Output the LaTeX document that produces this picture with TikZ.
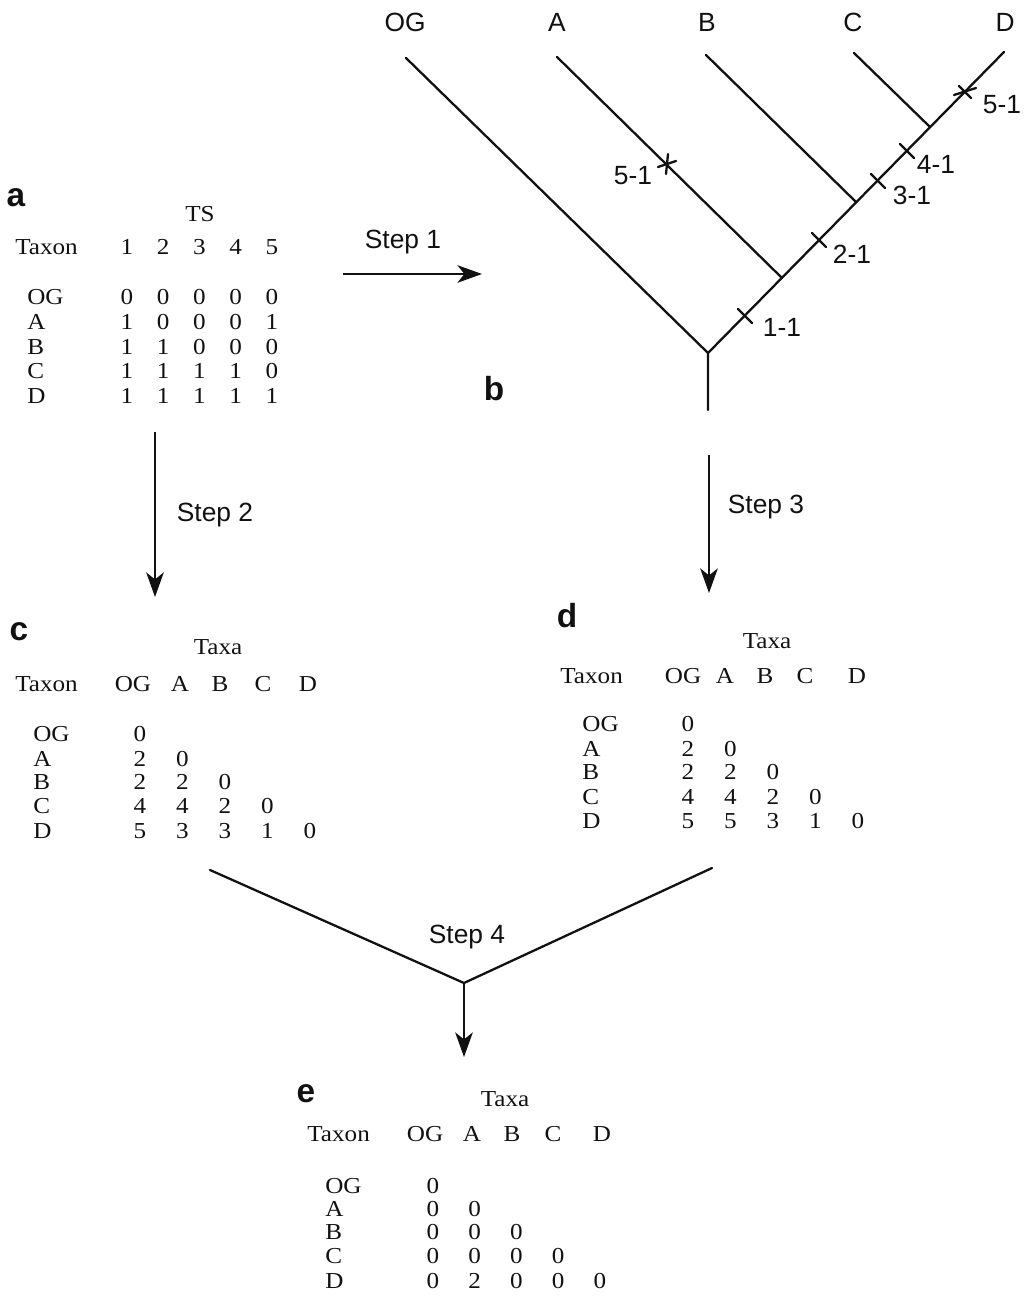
\documentclass[tikz,border=0pt]{standalone}
\usepackage{fontspec}
\setmainfont{Liberation Sans}
\newfontfamily\tabfont[FakeStretch=1.1]{Liberation Serif}
\usetikzlibrary{arrows.meta}
\definecolor{Ink}{HTML}{111111}
\tikzset{
    branch/.style={line width=1.3pt, draw=Ink, line cap=round},
    steparrow/.style={-{Stealth[length=14pt, width=10pt, inset=4pt]}, line width=1.3pt, draw=Ink},
    tabtxt/.style={font=\tabfont\fontsize{13}{15}\selectfont, text=Ink, inner sep=0pt, text height=1.5ex, text depth=0pt},
    rowlab/.style={tabtxt, anchor=west},
    steplab/.style={font=\fontsize{15}{18}\selectfont, text=Ink, inner sep=0pt, text height=1.5ex, text depth=0pt},
    panel/.style={font=\bfseries\fontsize{19}{22}\selectfont, text=Ink, inner sep=0pt, anchor=base},
}

\begin{document}
\begin{tikzpicture}[x=0.02cm, y=-0.02cm]
                \useasboundingbox (0,0) rectangle (1025,1297);

                % Tabella a (caratteri)
                \node[panel] (pa) at (16,207) {a};
                \node[tabtxt] (a-ts) at (200,215) {TS};
                \node[rowlab] (a-head) at (15,248) {Taxon};
                \foreach \c in {1,...,5}
                    \node[tabtxt] (a-h\c) at ({127+36.25*(\c-1)},248) {\c};
                \foreach \lab/\y/\vals [count=\r] in {OG/298/{0,0,0,0,0}, A/323/{1,0,0,0,1}, B/348/{1,1,0,0,0}, C/372/{1,1,1,1,0}, D/397/{1,1,1,1,1}} {
                    \node[rowlab] (a-r\r) at (27,\y) {\lab};
                    \foreach \v [count=\c] in \vals
                        \node[tabtxt] (a-\r-\c) at ({127+36.25*(\c-1)},\y) {\v};
                }

                % Albero b
                \node[panel] (pb) at (494,400) {b};
                \coordinate (root) at (708,353);
                \coordinate (stem) at (708,410);
                \coordinate (tOG) at (406,58);
                \coordinate (tA) at (557,57);
                \coordinate (tB) at (706,55);
                \coordinate (tC) at (854,53);
                \coordinate (tD) at (1004,52);
                \coordinate (jA) at (782,278);
                \coordinate (jB) at (856,202);
                \coordinate (jC) at (930,127);
                \draw[branch] (stem) -- (root) -- (tOG);
                \draw[branch] (root) -- (tD);
                \draw[branch] (jA) -- (tA);
                \draw[branch] (jB) -- (tB);
                \draw[branch] (jC) -- (tC);
                \node[steplab] (lOG) at (405,25) {OG};
                \node[steplab] (lA) at (557,25) {A};
                \node[steplab] (lB) at (707,25) {B};
                \node[steplab] (lC) at (853,25) {C};
                \node[steplab] (lD) at (1005,25) {D};

                % Tacche dei cambiamenti
                \coordinate (k1) at (745,316);
                \coordinate (k2) at (819,240);
                \coordinate (k3) at (878,181);
                \coordinate (k4) at (907,151);
                \coordinate (k5) at (965,92);
                \coordinate (kA) at (667,164);
                \draw[branch] (k1) ++(-7,-7) -- ++(14,14);
                \draw[branch] (k2) ++(-7,-7) -- ++(14,14);
                \draw[branch] (k3) ++(-7,-7) -- ++(14,14);
                \draw[branch] (k4) ++(-7,-7) -- ++(14,14);
                \draw[branch] (k5) ++(-6,-6) -- ++(12,12);
                \draw[branch] (k5) ++(-11,3) -- ++(22,-7);
                \draw[branch] (kA) ++(1,-10) -- ++(-2,20);
                \draw[branch] (kA) ++(-9,3) -- ++(18,-6);
                \node[steplab] (m1) at (782,330) {1-1};
                \node[steplab] (m2) at (852,257) {2-1};
                \node[steplab] (m3) at (912,198) {3-1};
                \node[steplab] (m4) at (936,167) {4-1};
                \node[steplab] (m5) at (1002,107) {5-1};
                \node[steplab] (mA) at (633,178) {5-1};

                % Step 1
                \coordinate (s1a) at (343,274);
                \coordinate (s1b) at (482,274);
                \draw[steparrow] (s1a) -- (s1b);
                \node[steplab] (step1) at (403,242) {Step 1};

                % Step 2
                \coordinate (s2a) at (155,432);
                \coordinate (s2b) at (155,597);
                \draw[steparrow] (s2a) -- (s2b);
                \node[steplab] (step2) at (215,515) {Step 2};

                % Step 3
                \coordinate (s3a) at (709,455);
                \coordinate (s3b) at (709,593);
                \draw[steparrow] (s3a) -- (s3b);
                \node[steplab] (step3) at (766,507) {Step 3};

                % Tabella c (distanze dai caratteri)
                \node[panel] (pc) at (19,640) {c};
                \node[tabtxt] (c-taxa) at (218,648) {Taxa};
                \node[rowlab] (c-head) at (15,685) {Taxon};
                \foreach \lab/\x [count=\c] in {OG/133, A/180, B/220, C/263, D/308}
                    \node[tabtxt] (c-h\c) at (\x,685) {\lab};
                \foreach \lab/\y/\vals [count=\r] in {OG/735/{0}, A/760/{2,0}, B/783/{2,2,0}, C/807/{4,4,2,0}, D/832/{5,3,3,1,0}} {
                    \node[rowlab] (c-r\r) at (33,\y) {\lab};
                    \foreach \v [count=\c] in \vals
                        \node[tabtxt] (c-\r-\c) at ({140+42.5*(\c-1)},\y) {\v};
                }

                % Tabella d (distanze dall'albero)
                \node[panel] (pd) at (567,627) {d};
                \node[tabtxt] (d-taxa) at (767,642) {Taxa};
                \node[rowlab] (d-head) at (560,677) {Taxon};
                \foreach \lab/\x [count=\c] in {OG/683, A/725, B/765, C/805, D/857}
                    \node[tabtxt] (d-h\c) at (\x,677) {\lab};
                \foreach \lab/\y/\vals [count=\r] in {OG/725/{0}, A/750/{2,0}, B/773/{2,2,0}, C/798/{4,4,2,0}, D/822/{5,5,3,1,0}} {
                    \node[rowlab] (d-r\r) at (582,\y) {\lab};
                    \foreach \v [count=\c] in \vals
                        \node[tabtxt] (d-\r-\c) at ({688+42.5*(\c-1)},\y) {\v};
                }

                % Step 4
                \coordinate (s4l) at (210,870);
                \coordinate (s4r) at (712,868);
                \coordinate (s4m) at (464,983);
                \coordinate (s4b) at (464,1057);
                \draw[branch] (s4l) -- (s4m) -- (s4r);
                \draw[steparrow] (s4m) -- (s4b);
                \node[steplab] (step4) at (467,937) {Step 4};

                % Tabella e (differenze)
                \node[panel] (pe) at (306,1102) {e};
                \node[tabtxt] (e-taxa) at (505,1100) {Taxa};
                \node[rowlab] (e-head) at (307,1135) {Taxon};
                \foreach \lab/\x [count=\c] in {OG/425, A/472, B/512, C/553, D/602}
                    \node[tabtxt] (e-h\c) at (\x,1135) {\lab};
                \foreach \lab/\y/\vals [count=\r] in {OG/1187/{0}, A/1210/{0,0}, B/1233/{0,0,0}, C/1257/{0,0,0,0}, D/1282/{0,2,0,0,0}} {
                    \node[rowlab] (e-r\r) at (325,\y) {\lab};
                    \foreach \v [count=\c] in \vals
                        \node[tabtxt] (e-\r-\c) at ({433+41.75*(\c-1)},\y) {\v};
                }
\end{tikzpicture}
\end{document}
